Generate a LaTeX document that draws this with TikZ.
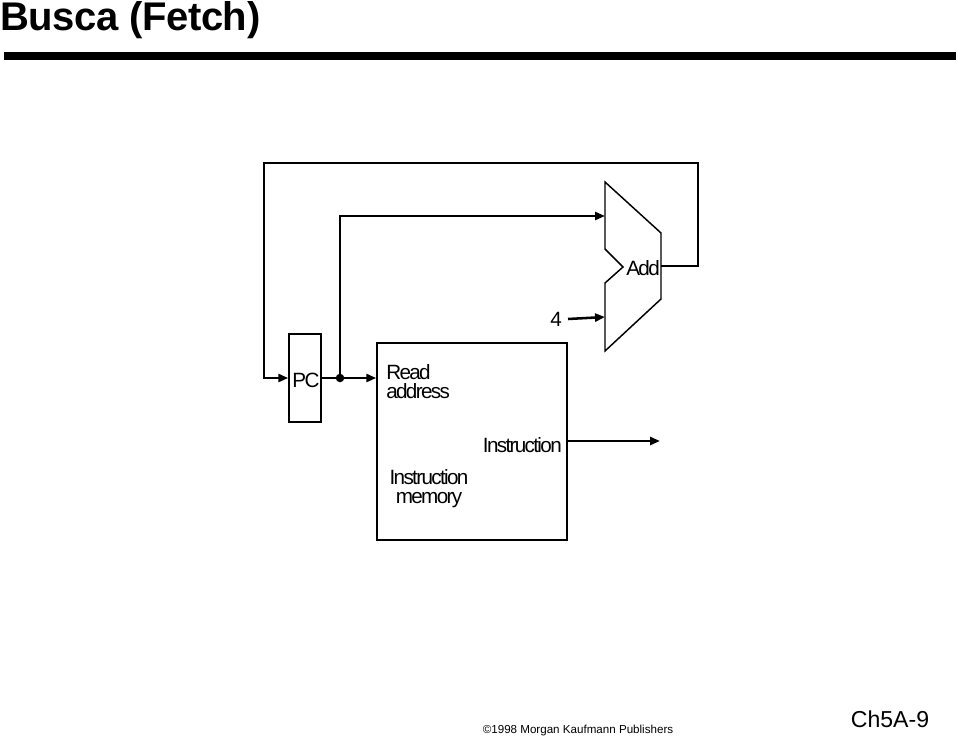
\documentclass[tikz,border=0pt]{standalone}
\usepackage{fontspec}
\setmainfont{Liberation Sans}
\newfontfamily\diagfont[LetterSpace=-8]{Liberation Sans}
\newfontfamily\titlefont[LetterSpace=-1]{Liberation Sans}
\usetikzlibrary{arrows.meta,positioning,calc}

\tikzset{
 wire/.style={line width=1.9pt},
 arr/.style={-{Triangle[length=7.5pt,width=6pt]}},
 unit/.style={draw,line width=1.1pt,inner sep=0pt},
 lbl/.style={font=\diagfont\fontsize{15.5}{14.2}\selectfont,inner sep=0pt,align=center},
}

\begin{document}
\begin{tikzpicture}[x=0.75pt,y=-0.75pt]
 \useasboundingbox (0,0) rectangle (960,738);
 % header
 \node[anchor=base west,inner sep=0pt,font=\titlefont\bfseries\fontsize{30}{32}\selectfont] (title) at (0,30.5) {Busca (Fetch)};
 \fill (4,52) rectangle (956,60);
 % units
 \node[unit,minimum width=24pt,minimum height=66pt] (pc) at (305,378) {};
 \node[lbl] (pclbl) at (306,380) {PC};
 \node[unit,minimum width=142.5pt,minimum height=147.75pt] (mem) at (472,441.5) {};
 \node[lbl,anchor=west,align=left] (rdaddr) at (386,382) {Read\\address};
 \node[lbl,anchor=east] (instr) at (562,445) {Instruction};
 \node[lbl] (imem) at (429,489) {Instruction\\memory};
 % adder
 \draw[line width=1.1pt] (605,182) -- (661,233) -- (661,299) -- (605,351) -- (605,283)
   -- (623,267) -- (605,249) -- cycle;
 \coordinate (addin1) at (605,216);
 \coordinate (addin2) at (605,317);
 \coordinate (addout) at (661,266);
 \node[lbl] (add) at (643,268) {Add};
 \node[lbl] (four) at (556,319) {4};
 % wires
 \coordinate (j) at (340,378);
 \coordinate (fbR) at (698,163);
 \coordinate (fbL) at (264,163);
 \coordinate (iout) at (660,441);
 \draw[wire,arr] (pc.east) -- (j) -- (mem.west |- j);
 \fill (j) circle (3.2pt);
 \draw[wire,arr] (j) |- (addin1);
 \draw[wire,arr] ($(four.east)+(6,0)$) -- (addin2);
 \draw[wire,arr] (addout) -| (fbR) -- (fbL) |- (pc.west);
 \draw[wire,arr] (mem.east |- iout) -- (iout);
 % footer
 \node[inner sep=0pt,font=\fontsize{8.7}{10}\selectfont] (copy) at (578,730) {\textcopyright1998 Morgan Kaufmann Publishers};
 \node[inner sep=0pt,font=\fontsize{17.3}{19}\selectfont] (page) at (890,719) {Ch5A-9};
\end{tikzpicture}
\end{document}
